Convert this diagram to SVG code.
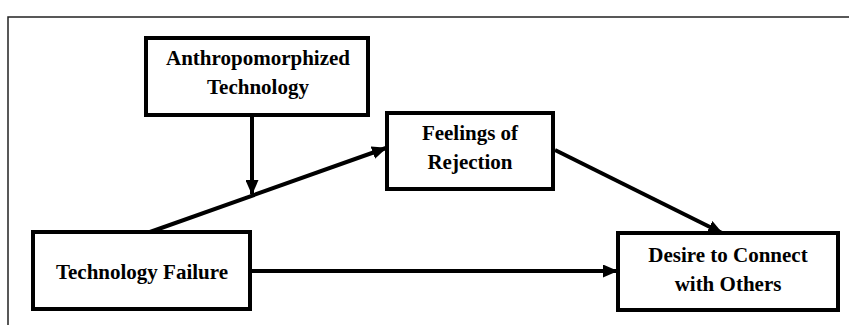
<svg xmlns="http://www.w3.org/2000/svg" width="849" height="325" viewBox="0 0 849 325">
<style>
.box{fill:#fff;stroke:#000;stroke-width:4}
.lbl{font-family:"Liberation Serif","Times New Roman","DejaVu Serif",serif;font-weight:700;font-size:21px;fill:#000;text-anchor:middle}
.edge{stroke:#000;stroke-width:4;fill:none}
</style>
<defs>
<marker id="ahL" markerWidth="15" markerHeight="13" refX="14" refY="6.5" orient="auto" markerUnits="userSpaceOnUse" viewBox="0 0 15 13">
<path d="M0,0 L15,6.5 L0,13 Z" fill="#000"/>
</marker>
</defs>
<rect width="849" height="325" fill="#fff"/>
<path d="M8,325 V17 H849" fill="none" stroke="#222" stroke-width="1.5"/>
<g id="connectors">
<line class="edge" x1="252" y1="117" x2="252" y2="194" marker-end="url(#ahL)"/>
<line class="edge" x1="150" y1="232" x2="386" y2="148" marker-end="url(#ahL)"/>
<line class="edge" x1="555" y1="150" x2="722" y2="233" marker-end="url(#ahL)"/>
<line class="edge" x1="252" y1="271" x2="617" y2="271" marker-end="url(#ahL)"/>
</g>
<g id="anthro">
<rect class="box" x="146" y="38" width="222" height="77"/>
<text class="lbl" x="258" y="65">Anthropomorphized</text>
<text class="lbl" x="258" y="94">Technology</text>
</g>
<g id="feelings">
<rect class="box" x="387" y="113" width="166" height="76"/>
<text class="lbl" x="470" y="140">Feelings of</text>
<text class="lbl" x="470" y="169">Rejection</text>
</g>
<g id="failure">
<rect class="box" x="33" y="232" width="217" height="77"/>
<text class="lbl" x="142" y="279">Technology Failure</text>
</g>
<g id="desire">
<rect class="box" x="618" y="233" width="220" height="77"/>
<text class="lbl" x="728" y="262">Desire to Connect</text>
<text class="lbl" x="728" y="291">with Others</text>
</g>
</svg>
